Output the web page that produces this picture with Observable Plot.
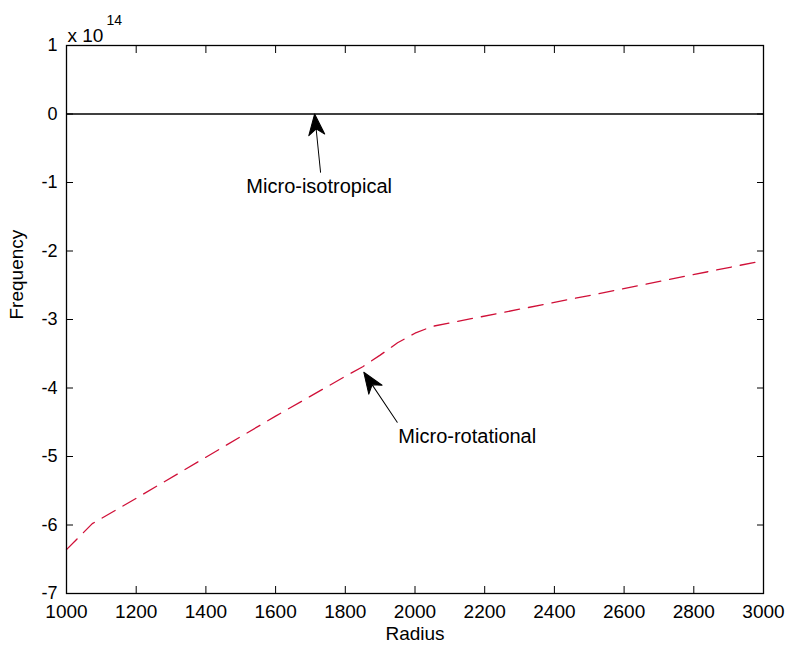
<!DOCTYPE html>
<html><head><meta charset="utf-8">
<script src="https://cdn.jsdelivr.net/npm/d3@7"></script>
<script src="https://cdn.jsdelivr.net/npm/@observablehq/plot@0.6"></script>
<style>body{margin:0;background:#fff}</style>
</head><body><div id="chart"></div>
<script>
// Data (frequency in units of 1e14)
const radius = [1000, 1074, 1200, 1400, 1600, 1800, 1850, 1900, 1950, 2000, 2050, 2100, 2500, 3000];
const frequency = [-6.36, -5.98, -5.61, -5.01, -4.41, -3.83, -3.69, -3.52, -3.34, -3.20, -3.10, -3.05, -2.65, -2.14];
const zeroLine = [0];
const xTicks = [1000, 1200, 1400, 1600, 1800, 2000, 2200, 2400, 2600, 2800, 3000];
const yTicks = [-7, -6, -5, -4, -3, -2, -1, 0, 1];
const xLabel = "Radius";
const yLabel = "Frequency";
const exponentBase = "x 10";
const exponentPower = "14";
const annotationText = ["Micro-isotropical", "Micro-rotational"];
const annotationX = [1725, 2150];
const annotationY = [-1.06, -4.71];
const arrowTailX = [1729, 1949];
const arrowTailY = [-0.85, -4.50];
const arrowTipX = [1712, 1853];
const arrowTipY = [0, -3.77];

const xScale = {domain: [1000, 3000], range: [66, 763]};
const yScale = {domain: [-7, 1], range: [593, 45]};
const sx = Plot.scale({x: xScale});
const sy = Plot.scale({y: yScale});

const arrowShape = {
  draw(ctx, l) {
    ctx.moveTo(0, 0);
    ctx.lineTo(0, -l + 14);
    ctx.moveTo(0, -l);
    ctx.lineTo(-8, -l + 21);
    ctx.lineTo(0, -l + 15);
    ctx.lineTo(8, -l + 21);
    ctx.closePath();
  }
};

const arrows = annotationText.map((t, i) => {
  const x0 = sx.apply(arrowTailX[i]), y0 = sy.apply(arrowTailY[i]);
  const x1 = sx.apply(arrowTipX[i]), y1 = sy.apply(arrowTipY[i]);
  return {
    x: arrowTailX[i], y: arrowTailY[i],
    angle: Math.atan2(x1 - x0, -(y1 - y0)) * 180 / Math.PI,
    length: Math.hypot(x1 - x0, y1 - y0)
  };
});

const series = radius.map((r, i) => ({r, f: frequency[i]}));
const notes = annotationText.map((t, i) => ({t, x: annotationX[i], y: annotationY[i]}));
const fmt = d => String(d);

const chart = Plot.plot({
  width: 787,
  height: 652,
  marginLeft: 66, marginRight: 24, marginTop: 45, marginBottom: 59,
  x: {...xScale},
  y: {...yScale},
  style: {fontFamily: "'Liberation Sans', Arial, sans-serif", fontSize: "18px", background: "white", color: "black"},
  marks: [
    Plot.ruleY(zeroLine, {stroke: "black", strokeWidth: 1.3}),
    Plot.line(series, {x: "r", y: "f", stroke: "#d01038", strokeWidth: 1.3, strokeDasharray: "15,9"}),
    Plot.frame({stroke: "black", strokeWidth: 1.3}),
    Plot.axisX(xTicks, {anchor: "bottom", tickSize: -7, tickPadding: 18, tickFormat: fmt, label: null, fontSize: 19}),
    Plot.axisX(xTicks, {anchor: "top", tickSize: -7, tickFormat: () => "", label: null}),
    Plot.axisY(yTicks, {anchor: "left", tickSize: -7, tickPadding: 16, tickFormat: fmt, label: null, fontSize: 18}),
    Plot.axisY(yTicks, {anchor: "right", tickSize: -7, tickFormat: () => "", label: null}),
    ...arrows.map(a => Plot.vector([a], {x: "x", y: "y", rotate: a.angle, length: a.length, anchor: "start", shape: arrowShape, stroke: "black", fill: "black", strokeWidth: 1})),
    Plot.text(notes, {x: "x", y: "y", text: "t", fontSize: 20}),
    Plot.text([xLabel], {frameAnchor: "bottom", dy: 46, fontSize: 19}),
    Plot.text([yLabel], {frameAnchor: "left", dx: -50, rotate: -90, fontSize: 19}),
    Plot.text([exponentBase], {frameAnchor: "top-left", textAnchor: "start", dx: 1, dy: -17, fontSize: 19}),
    Plot.text([exponentPower], {frameAnchor: "top-left", textAnchor: "start", dx: 40, dy: -30, fontSize: 14})
  ]
});
document.getElementById("chart").appendChild(chart);
</script>
</body></html>
